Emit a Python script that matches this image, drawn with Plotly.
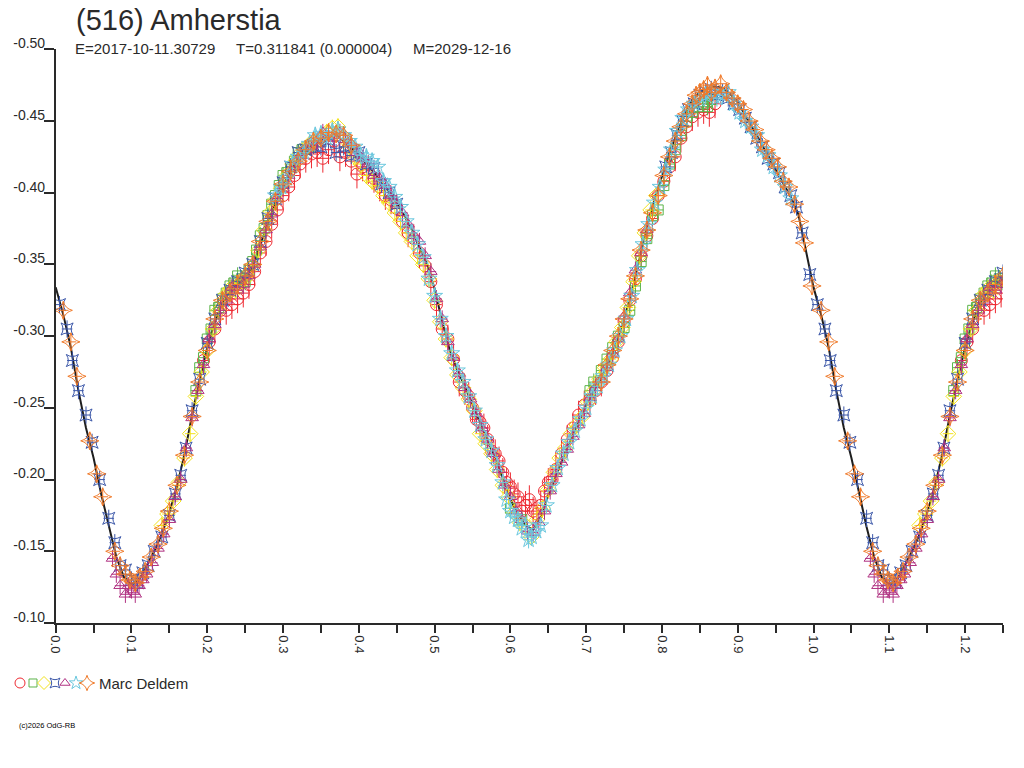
import plotly.graph_objects as go

W, H = 1024, 768

# ---------------- data ----------------
fit_phase = [0.00, 0.01, 0.02, 0.03, 0.04, 0.05, 0.06, 0.07, 0.08, 0.09,
             0.10, 0.11, 0.12, 0.13, 0.14, 0.15, 0.16, 0.17, 0.18, 0.19,
             0.20, 0.21, 0.22, 0.23, 0.24, 0.25, 0.26, 0.27, 0.28, 0.29,
             0.30, 0.31, 0.32, 0.33, 0.34, 0.35, 0.36, 0.37, 0.38, 0.39,
             0.40, 0.41, 0.42, 0.43, 0.44, 0.45, 0.46, 0.47, 0.48, 0.49,
             0.50, 0.51, 0.52, 0.53, 0.54, 0.55, 0.56, 0.57, 0.58, 0.59,
             0.60, 0.61, 0.62, 0.63, 0.64, 0.65, 0.66, 0.67, 0.68, 0.69,
             0.70, 0.71, 0.72, 0.73, 0.74, 0.75, 0.76, 0.77, 0.78, 0.79,
             0.80, 0.81, 0.82, 0.83, 0.84, 0.85, 0.86, 0.87, 0.88, 0.89,
             0.90, 0.91, 0.92, 0.93, 0.94, 0.95, 0.96, 0.97, 0.98, 0.99, 1.00]
fit_mag = [-0.334, -0.315, -0.292, -0.262, -0.236, -0.215, -0.190, -0.167, -0.146, -0.132,
           -0.127, -0.130, -0.140, -0.150, -0.162, -0.177, -0.195, -0.218, -0.245, -0.270,
           -0.292, -0.310, -0.323, -0.331, -0.336, -0.340, -0.348, -0.364, -0.379, -0.393,
           -0.405, -0.416, -0.424, -0.430, -0.434, -0.437, -0.439, -0.440, -0.436, -0.431,
           -0.427, -0.420, -0.414, -0.407, -0.401, -0.393, -0.384, -0.374, -0.362, -0.350,
           -0.333, -0.310, -0.290, -0.276, -0.265, -0.252, -0.239, -0.227, -0.215, -0.200,
           -0.186, -0.176, -0.168, -0.165, -0.174, -0.189, -0.203, -0.216, -0.228, -0.240,
           -0.252, -0.262, -0.271, -0.282, -0.296, -0.312, -0.330, -0.353, -0.376, -0.395,
           -0.412, -0.428, -0.442, -0.455, -0.465, -0.470, -0.473, -0.474, -0.473, -0.469,
           -0.463, -0.454, -0.445, -0.436, -0.426, -0.416, -0.407, -0.397, -0.385, -0.360, -0.334]

# session 1 (red circles)
s1_phase = [0.195, 0.210, 0.225, 0.240, 0.255, 0.270, 0.285, 0.300, 0.315, 0.330,
            0.345, 0.360, 0.375, 0.390, 0.405, 0.420, 0.435, 0.450, 0.465, 0.480,
            0.495, 0.510, 0.525, 0.540, 0.550, 0.560, 0.570, 0.580, 0.590, 0.600,
            0.610, 0.620, 0.630, 0.640, 0.650, 0.660, 0.675, 0.690, 0.705, 0.720,
            0.735, 0.750, 0.765, 0.780, 0.795, 0.810, 0.825, 0.840, 0.855, 0.870,
            0.2025, 0.2175, 0.2325, 0.2475, 0.2625, 0.2775, 0.2925, 0.3075, 0.3225, 0.3375,
            0.3525, 0.3675, 0.3825, 0.3975, 0.4125, 0.4275, 0.4425, 0.4575, 0.4725, 0.4875,
            0.5025, 0.5175, 0.5325, 0.545, 0.555, 0.565, 0.575, 0.585, 0.595, 0.605,
            0.615, 0.625, 0.635, 0.645, 0.655, 0.6675, 0.6825, 0.6975, 0.7125, 0.7275,
            0.7425, 0.7575, 0.7725, 0.7875, 0.8025, 0.8175, 0.8325, 0.8475, 0.8625]
s1_mag = [-0.283, -0.305, -0.318, -0.326, -0.336, -0.358, -0.378, -0.398, -0.412, -0.424,
          -0.428, -0.430, -0.425, -0.422, -0.418, -0.410, -0.398, -0.389, -0.372, -0.358,
          -0.338, -0.305, -0.284, -0.262, -0.250, -0.240, -0.228, -0.218, -0.205, -0.195,
          -0.188, -0.182, -0.178, -0.182, -0.198, -0.207, -0.228, -0.245, -0.256, -0.268,
          -0.285, -0.310, -0.340, -0.370, -0.398, -0.418, -0.438, -0.453, -0.458, -0.462,
          -0.296, -0.318, -0.322, -0.330, -0.345, -0.366, -0.388, -0.404, -0.420, -0.427,
          -0.424, -0.436, -0.428, -0.413, -0.416, -0.404, -0.395, -0.380, -0.368, -0.349,
          -0.322, -0.298, -0.268, -0.258, -0.242, -0.236, -0.220, -0.213, -0.198, -0.190,
          -0.178, -0.186, -0.176, -0.192, -0.200, -0.218, -0.236, -0.252, -0.262, -0.276,
          -0.296, -0.325, -0.356, -0.382, -0.408, -0.425, -0.446, -0.456, -0.456]

# session 2 (green squares)
s2_phase = [0.185, 0.195, 0.205, 0.215, 0.225, 0.235, 0.245, 0.255, 0.265, 0.275,
            0.285, 0.295, 0.305, 0.315, 0.325, 0.600, 0.615, 0.705, 0.720, 0.735,
            0.750, 0.765, 0.780, 0.795, 0.810, 0.825, 0.840, 0.855, 0.865,
            0.190, 0.200, 0.210, 0.220, 0.230, 0.240, 0.250, 0.260, 0.270, 0.280,
            0.290, 0.300, 0.310, 0.320, 0.335, 0.710, 0.7275, 0.7425, 0.7575, 0.7725,
            0.7875, 0.8025, 0.8175, 0.8325, 0.8475, 0.860]
s2_mag = [-0.262, -0.285, -0.305, -0.320, -0.330, -0.337, -0.340, -0.346, -0.360, -0.375,
          -0.392, -0.405, -0.414, -0.422, -0.430, -0.180, -0.172, -0.262, -0.276, -0.292,
          -0.306, -0.335, -0.368, -0.388, -0.420, -0.440, -0.456, -0.462, -0.465,
          -0.278, -0.298, -0.318, -0.326, -0.335, -0.342, -0.338, -0.352, -0.370, -0.384,
          -0.398, -0.412, -0.418, -0.428, -0.432, -0.268, -0.284, -0.300, -0.318, -0.352,
          -0.384, -0.405, -0.430, -0.450, -0.460, -0.460]

# session 3 (yellow diamonds)
s3_phase = [0.140, 0.155, 0.170, 0.185, 0.200, 0.215, 0.230, 0.245, 0.260, 0.275,
            0.290, 0.305, 0.320, 0.335, 0.350, 0.365, 0.380, 0.395, 0.410, 0.425,
            0.440, 0.455, 0.470, 0.485, 0.500, 0.515, 0.530, 0.545, 0.560, 0.575,
            0.590, 0.605, 0.620, 0.635, 0.650, 0.665, 0.680, 0.695, 0.710, 0.725,
            0.740, 0.755, 0.770, 0.785,
            0.1475, 0.1625, 0.1775, 0.1925, 0.2075, 0.2225, 0.2375, 0.2525, 0.2675, 0.2825,
            0.2975, 0.3125, 0.3275, 0.3425, 0.3575, 0.3725, 0.3875, 0.4025, 0.4175, 0.4325,
            0.4475, 0.4625, 0.4775, 0.4925, 0.5075, 0.5225, 0.5375, 0.5525, 0.5675, 0.5825,
            0.5975, 0.6125, 0.6275, 0.6425, 0.6575, 0.6725, 0.6875, 0.7025, 0.7175, 0.7325,
            0.7475, 0.7625, 0.7775, 0.7925]
s3_mag = [-0.168, -0.185, -0.215, -0.258, -0.290, -0.318, -0.333, -0.338, -0.349, -0.374,
          -0.395, -0.412, -0.426, -0.434, -0.438, -0.445, -0.438, -0.425, -0.412, -0.405,
          -0.393, -0.380, -0.366, -0.350, -0.325, -0.298, -0.273, -0.256, -0.232, -0.218,
          -0.196, -0.177, -0.168, -0.172, -0.193, -0.215, -0.232, -0.244, -0.262, -0.278,
          -0.296, -0.320, -0.356, -0.388,
          -0.176, -0.198, -0.232, -0.275, -0.305, -0.328, -0.332, -0.341, -0.360, -0.386,
          -0.403, -0.420, -0.430, -0.436, -0.442, -0.446, -0.432, -0.420, -0.408, -0.398,
          -0.386, -0.372, -0.356, -0.340, -0.310, -0.285, -0.264, -0.248, -0.225, -0.207,
          -0.188, -0.170, -0.160, -0.180, -0.205, -0.222, -0.238, -0.254, -0.270, -0.284,
          -0.306, -0.338, -0.372, -0.398]

# session 4 (blue star-squares)
s4_phase = [0.805, 0.820, 0.835, 0.850, 0.865, 0.880, 0.895, 0.910, 0.925, 0.940,
            0.955, 0.970, 0.985, 0.995, 0.005, 0.015, 0.022, 0.040, 0.058, 0.070,
            0.085, 0.100, 0.115, 0.130, 0.150, 0.165, 0.180, 0.200, 0.220, 0.240,
            0.260, 0.280, 0.300, 0.320, 0.340, 0.360, 0.380, 0.400, 0.420, 0.440,
            0.8125, 0.8275, 0.8425, 0.8575, 0.8725, 0.8875, 0.9025, 0.9175, 0.9325, 0.9475,
            0.9625, 0.9775, 0.030, 0.048, 0.078, 0.092, 0.108, 0.122, 0.140, 0.158,
            0.172, 0.190, 0.210, 0.230, 0.250, 0.270, 0.290, 0.310, 0.330, 0.350,
            0.370, 0.390, 0.410, 0.430, 0.450]
s4_mag = [-0.418, -0.440, -0.458, -0.468, -0.472, -0.470, -0.462, -0.452, -0.438, -0.424,
          -0.414, -0.398, -0.372, -0.343, -0.322, -0.305, -0.283, -0.245, -0.200, -0.173,
          -0.140, -0.130, -0.135, -0.150, -0.175, -0.203, -0.248, -0.295, -0.325, -0.338,
          -0.350, -0.382, -0.407, -0.428, -0.433, -0.437, -0.432, -0.428, -0.417, -0.400,
          -0.428, -0.450, -0.462, -0.470, -0.468, -0.466, -0.458, -0.446, -0.432, -0.420,
          -0.404, -0.390, -0.262, -0.226, -0.156, -0.137, -0.128, -0.140, -0.160, -0.190,
          -0.222, -0.270, -0.312, -0.332, -0.344, -0.366, -0.396, -0.418, -0.430, -0.432,
          -0.428, -0.426, -0.420, -0.406, -0.392]

# session 5 (purple triangles)
s5_phase = [0.075, 0.085, 0.092, 0.100, 0.110, 0.120, 0.135, 0.150, 0.165, 0.180,
            0.195, 0.210, 0.225, 0.240, 0.255, 0.270, 0.285, 0.300, 0.315, 0.330,
            0.345, 0.360, 0.375, 0.390, 0.405, 0.420, 0.435, 0.450, 0.465, 0.480,
            0.495, 0.510, 0.525, 0.540, 0.555, 0.570, 0.585, 0.600, 0.615, 0.630,
            0.645, 0.660, 0.675, 0.690, 0.705, 0.720, 0.735, 0.750, 0.765, 0.780,
            0.080, 0.096, 0.105, 0.115, 0.1275, 0.1425, 0.1575, 0.1725, 0.1875, 0.2025,
            0.2175, 0.2325, 0.2475, 0.2625, 0.2775, 0.2925, 0.3075, 0.3225, 0.3375, 0.3525,
            0.3675, 0.3825, 0.3975, 0.4125, 0.4275, 0.4425, 0.4575, 0.4725, 0.4875, 0.5025,
            0.5175, 0.5325, 0.5475, 0.5625, 0.5775, 0.5925, 0.6075, 0.6225, 0.6375, 0.6525,
            0.6675, 0.6825, 0.6975, 0.7125, 0.7275, 0.7425, 0.7575, 0.7725]
s5_mag = [-0.145, -0.126, -0.120, -0.123, -0.126, -0.134, -0.152, -0.172, -0.200, -0.243,
          -0.280, -0.308, -0.325, -0.332, -0.342, -0.362, -0.385, -0.403, -0.418, -0.430,
          -0.436, -0.440, -0.442, -0.434, -0.424, -0.412, -0.405, -0.392, -0.378, -0.366,
          -0.345, -0.312, -0.285, -0.264, -0.246, -0.228, -0.207, -0.188, -0.172, -0.163,
          -0.178, -0.204, -0.221, -0.238, -0.257, -0.270, -0.288, -0.314, -0.346, -0.374,
          -0.134, -0.126, -0.120, -0.130, -0.142, -0.162, -0.188, -0.222, -0.262, -0.298,
          -0.318, -0.334, -0.336, -0.350, -0.374, -0.396, -0.412, -0.426, -0.433, -0.442,
          -0.438, -0.437, -0.428, -0.420, -0.410, -0.398, -0.386, -0.370, -0.356, -0.326,
          -0.296, -0.274, -0.256, -0.236, -0.218, -0.196, -0.178, -0.164, -0.170, -0.192,
          -0.212, -0.230, -0.246, -0.264, -0.278, -0.298, -0.330, -0.358]

# session 6 (cyan stars)
s6_phase = [0.290, 0.305, 0.320, 0.335, 0.350, 0.365, 0.380, 0.395, 0.410, 0.425,
            0.440, 0.455, 0.470, 0.485, 0.500, 0.515, 0.530, 0.545, 0.560, 0.575,
            0.590, 0.600, 0.610, 0.620, 0.628, 0.640, 0.655, 0.670, 0.685, 0.700,
            0.715, 0.730, 0.745, 0.760, 0.775, 0.790, 0.805, 0.820, 0.835, 0.850,
            0.865, 0.880, 0.895, 0.910, 0.925, 0.940, 0.955, 0.970,
            0.2975, 0.3125, 0.3275, 0.3425, 0.3575, 0.3725, 0.3875, 0.4025, 0.4175, 0.4325,
            0.4475, 0.4625, 0.4775, 0.4925, 0.5075, 0.5225, 0.5375, 0.5525, 0.5675, 0.5825,
            0.595, 0.605, 0.615, 0.624, 0.634, 0.6475, 0.6625, 0.6775, 0.6925, 0.7075,
            0.7225, 0.7375, 0.7525, 0.7675, 0.7825, 0.7975, 0.8125, 0.8275, 0.8425, 0.8575,
            0.8725, 0.8875, 0.9025, 0.9175, 0.9325, 0.9475, 0.9625]
s6_mag = [-0.398, -0.410, -0.425, -0.434, -0.441, -0.443, -0.440, -0.432, -0.425, -0.418,
          -0.404, -0.390, -0.372, -0.355, -0.328, -0.300, -0.276, -0.258, -0.238, -0.220,
          -0.198, -0.178, -0.172, -0.168, -0.160, -0.168, -0.196, -0.218, -0.234, -0.250,
          -0.265, -0.280, -0.300, -0.328, -0.364, -0.393, -0.416, -0.443, -0.458, -0.465,
          -0.470, -0.468, -0.462, -0.450, -0.440, -0.426, -0.412, -0.396,
          -0.404, -0.420, -0.428, -0.440, -0.438, -0.444, -0.436, -0.426, -0.422, -0.408,
          -0.397, -0.380, -0.364, -0.340, -0.312, -0.288, -0.268, -0.248, -0.228, -0.210,
          -0.186, -0.174, -0.166, -0.158, -0.164, -0.182, -0.208, -0.226, -0.242, -0.258,
          -0.272, -0.290, -0.312, -0.346, -0.378, -0.404, -0.430, -0.452, -0.462, -0.468,
          -0.466, -0.470, -0.456, -0.446, -0.430, -0.418, -0.404]

# session 7 (orange star-diamonds)
s7_phase = [0.720, 0.735, 0.750, 0.765, 0.780, 0.795, 0.810, 0.825, 0.840, 0.850,
            0.860, 0.870, 0.885, 0.900, 0.915, 0.930, 0.945, 0.960, 0.975, 0.988,
            0.998, 0.010, 0.028, 0.045, 0.062, 0.078, 0.092, 0.105, 0.118, 0.135,
            0.150, 0.170, 0.190, 0.210, 0.230, 0.250, 0.270, 0.290, 0.310, 0.330,
            0.350, 0.370, 0.390,
            0.7275, 0.7425, 0.7575, 0.7725, 0.7875, 0.8025, 0.8175, 0.8325, 0.845, 0.855,
            0.865, 0.8775, 0.8925, 0.9075, 0.9225, 0.9375, 0.9525, 0.9675, 0.982, 0.020,
            0.054, 0.085, 0.098, 0.111, 0.126, 0.142, 0.160, 0.180, 0.200, 0.220,
            0.240, 0.260, 0.280, 0.300, 0.320, 0.340, 0.360, 0.380]
s7_mag = [-0.268, -0.290, -0.312, -0.342, -0.374, -0.398, -0.425, -0.446, -0.462, -0.470,
          -0.475, -0.473, -0.470, -0.462, -0.450, -0.436, -0.424, -0.408, -0.392, -0.365,
          -0.335, -0.318, -0.272, -0.227, -0.188, -0.150, -0.134, -0.128, -0.136, -0.155,
          -0.178, -0.217, -0.268, -0.312, -0.330, -0.342, -0.366, -0.394, -0.415, -0.430,
          -0.438, -0.441, -0.433,
          -0.280, -0.300, -0.326, -0.360, -0.386, -0.412, -0.436, -0.455, -0.468, -0.472,
          -0.470, -0.476, -0.466, -0.458, -0.444, -0.430, -0.418, -0.404, -0.380, -0.296,
          -0.204, -0.140, -0.130, -0.132, -0.146, -0.166, -0.196, -0.244, -0.290, -0.325,
          -0.336, -0.350, -0.380, -0.406, -0.422, -0.436, -0.442, -0.440]

session_err = [0.010, 0.006, 0.006, 0.006, 0.006, 0.006, 0.006]
session_colors = ["#ee2a32", "#5cb44a", "#f2e21c", "#3a56a8", "#b03282", "#6cc8de", "#f07a2a"]
session_symbols = ["circle-open", "square-open", "diamond-open", "star-square-open",
                   "triangle-up-open", "star-open", "star-diamond-open"]
session_sizes = [12, 10, 12, 11, 11, 12, 13]
legend_sizes = [10, 8, 10, 9, 9, 10, 11]

title_text = "(516) Amherstia"
info_text = ("E=2017-10-11.30729\u00a0\u00a0\u00a0\u00a0\u00a0T=0.311841 (0.000004)"
             "\u00a0\u00a0\u00a0\u00a0\u00a0M=2029-12-16")
observer = "Marc Deldem"
copyright_text = "(c)2026 OdG-RB"

x_tick_vals = [0.0, 0.05, 0.1, 0.15, 0.2, 0.25, 0.3, 0.35, 0.4, 0.45, 0.5, 0.55, 0.6,
               0.65, 0.7, 0.75, 0.8, 0.85, 0.9, 0.95, 1.0, 1.05, 1.1, 1.15, 1.2, 1.25]
x_tick_text = ["0.0", "", "0.1", "", "0.2", "", "0.3", "", "0.4", "", "0.5", "", "0.6",
               "", "0.7", "", "0.8", "", "0.9", "", "1.0", "", "1.1", "", "1.2", ""]
y_tick_vals = [-0.50, -0.45, -0.40, -0.35, -0.30, -0.25, -0.20, -0.15, -0.10]
y_tick_text = ["-0.50", "-0.45", "-0.40", "-0.35", "-0.30", "-0.25", "-0.20", "-0.15", "-0.10"]

PHASE_MAX = 1.25

# ---------------- layout geometry (pixels) ----------------
PX_L, PX_R, PX_T, PX_B = 55.7, 1003.0, 49.3, 623.0
FONT = "Liberation Sans, Arial, Helvetica, sans-serif"
AXC = "#2a2a2a"


def px(xp, yp):
    return xp / W, 1 - yp / H


def wrap(ph, mg):
    xs, ys = list(ph), list(mg)
    for p, m in zip(ph, mg):
        if p + 1.0 <= PHASE_MAX:
            xs.append(p + 1.0)
            ys.append(m)
    return xs, ys


fig = go.Figure()

# fitted curve
fx, fy = list(fit_phase), list(fit_mag)
for p, m in zip(fit_phase[1:], fit_mag[1:]):
    if p + 1.0 <= PHASE_MAX + 1e-9:
        fx.append(p + 1.0)
        fy.append(m)
fig.add_trace(go.Scatter(x=fx, y=fy, mode="lines", line=dict(color="#1e1e1e", width=2),
                         hoverinfo="skip", showlegend=False))

all_sessions = [(s1_phase, s1_mag), (s2_phase, s2_mag), (s3_phase, s3_mag), (s4_phase, s4_mag),
                (s5_phase, s5_mag), (s6_phase, s6_mag), (s7_phase, s7_mag)]

for i, (ph, mg) in enumerate(all_sessions):
    xs, ys = wrap(ph, mg)
    c = session_colors[i]
    fig.add_trace(go.Scatter(
        x=xs, y=ys, mode="markers",
        marker=dict(symbol=session_symbols[i], size=session_sizes[i], color=c,
                    line=dict(color=c, width=1)),
        error_y=dict(type="constant", value=session_err[i], color=c, thickness=1, width=0),
        error_x=dict(type="constant", value=0.007, color=c, thickness=1, width=0),
        showlegend=False, hoverinfo="skip"))

# legend key row drawn on a helper axis (pixel units)
lx0, lx1 = 0.0, 0.3
ly0, ly1 = 0.08, 0.14
key_x = [20, 33, 44, 55, 65, 76, 87]
for i in range(7):
    c = session_colors[i]
    fig.add_trace(go.Scatter(
        x=[key_x[i]], y=[683], mode="markers", xaxis="x2", yaxis="y2",
        marker=dict(symbol=session_symbols[i], size=legend_sizes[i], color=c,
                    line=dict(color=c, width=1)),
        showlegend=False, hoverinfo="skip"))

xd = [PX_L / W, PX_R / W]
yd = [1 - PX_B / H, 1 - PX_T / H]

fig.update_layout(
    template="none",
    width=W, height=H, autosize=False,
    margin=dict(l=0, r=0, t=0, b=0, pad=0, autoexpand=False),
    paper_bgcolor="white", plot_bgcolor="white",
    font=dict(family=FONT, color=AXC, size=13),
    xaxis=dict(domain=xd, range=[0, PHASE_MAX], showgrid=False, zeroline=False,
               automargin=False,
               showline=True, linecolor=AXC, linewidth=1.5,
               ticks="outside", ticklen=8, tickwidth=1.5, tickcolor=AXC,
               tickmode="array", tickvals=x_tick_vals, ticktext=x_tick_text,
               tickangle=90, tickfont=dict(size=13, color=AXC)),
    yaxis=dict(domain=yd, range=[-0.10, -0.50], showgrid=False, zeroline=False,
               automargin=False,
               showline=True, linecolor=AXC, linewidth=1.5,
               ticks="outside", ticklen=10, tickwidth=1.5, tickcolor=AXC,
               tickmode="array", tickvals=y_tick_vals, ticktext=y_tick_text,
               ticklabelshift=6, ticklabelstandoff=-4,
               tickfont=dict(size=14, color=AXC)),
    xaxis2=dict(domain=[lx0, lx1], range=[0, (lx1 - lx0) * W], visible=False,
                fixedrange=True, automargin=False),
    yaxis2=dict(domain=[ly0, ly1], range=[(1 - ly0) * H, (1 - ly1) * H], visible=False,
                fixedrange=True, automargin=False),
)

ann = []
tx, ty = px(74, 20)
ann.append(dict(text=title_text, x=tx, y=ty, xref="paper", yref="paper", xanchor="left",
                yanchor="middle", showarrow=False, font=dict(size=29, color=AXC, family=FONT)))
tx, ty = px(73, 48)
ann.append(dict(text=info_text, x=tx, y=ty, xref="paper", yref="paper", xanchor="left",
                yanchor="middle", showarrow=False, font=dict(size=15, color=AXC, family=FONT)))
tx, ty = px(97, 683)
ann.append(dict(text=observer, x=tx, y=ty, xref="paper", yref="paper", xanchor="left",
                yanchor="middle", showarrow=False, font=dict(size=15, color=AXC, family=FONT)))
tx, ty = px(17, 725)
ann.append(dict(text=copyright_text, x=tx, y=ty, xref="paper", yref="paper", xanchor="left",
                yanchor="middle", showarrow=False, font=dict(size=7.5, color="#000", family=FONT)))
fig.update_layout(annotations=ann)

post = ("document.documentElement.style.margin='0';document.body.style.margin='0';"
        "document.body.style.padding='0';"
        "var d=document.getElementById('{plot_id}');"
        "d.style.position='absolute';d.style.left='0px';d.style.top='0px';")
fig.write_html("out.html", config={"displayModeBar": False, "responsive": False},
               post_script=post)
